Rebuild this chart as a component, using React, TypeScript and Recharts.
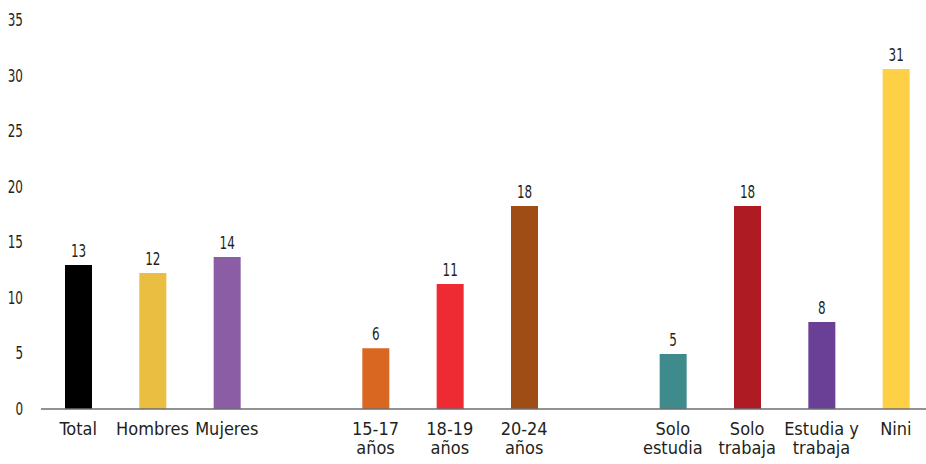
import { BarChart, Bar, XAxis, YAxis, Cell, LabelList } from "recharts";

// blank entries keep the gaps between the three groups
const categories = [
  "Total",
  "Hombres",
  "Mujeres",
  "",
  "15-17\naños",
  "18-19\naños",
  "20-24\naños",
  " ",
  "Solo\nestudia",
  "Solo\ntrabaja",
  "Estudia y\ntrabaja",
  "Nini",
];
const values = [12.96, 12.24, 13.68, null, 5.46, 11.25, 18.27, null, 4.95, 18.27, 7.83, 30.6];
const valueLabels = ["13", "12", "14", "", "6", "11", "18", "", "5", "18", "8", "31"];
const barColors = [
  "#000000",
  "#E9BE41",
  "#8A5DA5",
  "#ffffff",
  "#D96722",
  "#EE2A33",
  "#A04D15",
  "#ffffff",
  "#3F8B8B",
  "#AF1B22",
  "#6A3F96",
  "#FED045",
];
const yTicks = [0, 5, 10, 15, 20, 25, 30, 35];

const data = categories.map((name, i) => ({
  name,
  value: values[i],
  label: valueLabels[i],
}));

const TEXT = "#231f20";
const FONT = "'DejaVu Sans Condensed', 'DejaVu Sans', sans-serif";

// narrow numerals, squeezed horizontally around their anchor
function NarrowText({ x, y, anchor, children }: { x: number; y: number; anchor: "start" | "middle" | "end"; children: string }) {
  return (
    <text
      transform={`translate(${x},${y}) scale(0.74,1)`}
      textAnchor={anchor}
      fill={TEXT}
      fontSize={18}
      fontFamily={FONT}
    >
      {children}
    </text>
  );
}

// eslint-disable-next-line @typescript-eslint/no-explicit-any
function XTick(props: any) {
  const { x, y, payload } = props;
  const lines = String(payload.value).trim().split("\n");
  return (
    <text x={x} y={y + 18} textAnchor="middle" fill={TEXT} fontSize={18} fontFamily={FONT}>
      {lines.map((line, i) => (
        <tspan key={i} x={x} dy={i === 0 ? 0 : 19}>
          {line}
        </tspan>
      ))}
    </text>
  );
}

// eslint-disable-next-line @typescript-eslint/no-explicit-any
function YTick(props: any) {
  const { x, y, payload } = props;
  return (
    <NarrowText x={x - 10} y={y + 6} anchor="end">
      {String(payload.value)}
    </NarrowText>
  );
}

// eslint-disable-next-line @typescript-eslint/no-explicit-any
function ValueLabel(props: any) {
  const { x, y, width, value } = props;
  if (!value) return null;
  return (
    <NarrowText x={x + width / 2} y={y - 8} anchor="middle">
      {String(value)}
    </NarrowText>
  );
}

export default function App() {
  return (
    <div style={{ position: "absolute", left: 0, top: 0, background: "#fff" }}>
      <BarChart
        width={933}
        height={464}
        data={data}
        margin={{ top: 20, right: 0, bottom: 0, left: 0 }}
        barCategoryGap="0%"
      >
        <XAxis
          dataKey="name"
          interval={0}
          height={55}
          tickLine={false}
          axisLine={{ stroke: "#6d6e71", strokeWidth: 1.5 }}
          tick={<XTick />}
        />
        <YAxis
          width={41}
          domain={[0, 35]}
          ticks={yTicks}
          axisLine={false}
          tickLine={false}
          tick={<YTick />}
        />
        <Bar dataKey="value" barSize={27} isAnimationActive={false}>
          {data.map((_, i) => (
            <Cell key={`cell-${i}`} fill={barColors[i]} />
          ))}
          <LabelList dataKey="label" content={<ValueLabel />} />
        </Bar>
      </BarChart>
    </div>
  );
}
